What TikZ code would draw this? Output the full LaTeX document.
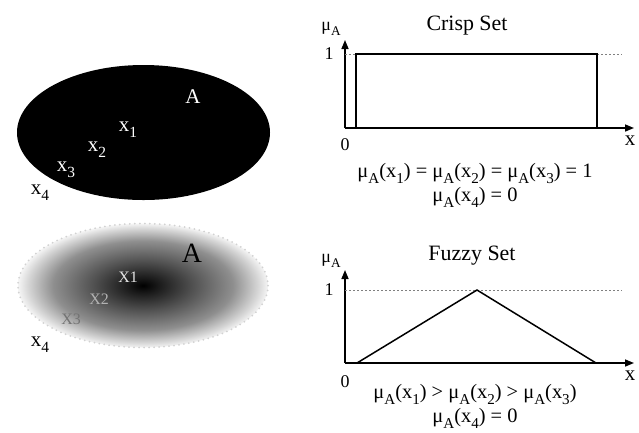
\documentclass[tikz,border=0pt]{standalone}
\usepackage{fontspec}
\setmainfont{Liberation Serif}
\usetikzlibrary{arrows.meta}
\pgfdeclareradialshading{fuzzyset}{\pgfpoint{0bp}{0bp}}{color(0bp)=(black); color(3bp)=(black!90); color(10bp)=(black!68); color(18bp)=(black!44); color(23bp)=(black!16); color(25bp)=(black!4); color(50bp)=(white)}
% low, large subscript as in the reference
\newcommand\lowsub[1]{\raisebox{-0.3em}{\scalebox{0.74}{#1}}}
\newcommand\muA{μ\lowsub{A}}

\begin{document}
\begin{tikzpicture}[
  x=1bp, y=-1bp,
  txt/.style={inner sep=0pt, font=\fontsize{18}{20}\selectfont},
  elt/.style={inner sep=0pt, font=\fontsize{21}{24}\selectfont},
  ttl/.style={inner sep=0pt, anchor=base, font=\fontsize{22}{25}\selectfont},
  big/.style={inner sep=0pt, font=\fontsize{28}{32}\selectfont},
  small/.style={inner sep=0pt, font=\fontsize{16}{18}\selectfont},
  formula/.style={inner sep=0pt, anchor=base, font=\fontsize{20.5}{22}\selectfont},
  axis/.style={line width=1.5bp, -{Triangle[length=9bp,width=7bp]}},
  guide/.style={gray, line width=0.7bp, dash pattern=on 2bp off 2bp},
  curve/.style={line width=1.5bp}
]
\useasboundingbox (0,0) rectangle (639,432);

% crisp set A
\fill[black] (143.5,132.5) ellipse [x radius=126.5, y radius=67.5];
\node[elt,white] (cA) at (193,97) {A};
\node[elt,white] (cx1) at (128,130) {x\lowsub{1}};
\node[elt,white] (cx2) at (97,150) {x\lowsub{2}};
\node[elt,white] (cx3) at (66,170) {x\lowsub{3}};
\node[elt] (cx4) at (40,193) {x\lowsub{4}};

% fuzzy set A
\shade[shading=fuzzyset] (143,285.5) ellipse [x radius=125, y radius=62];
\draw[gray!35, line width=2bp, dash pattern=on 0pt off 5bp, line cap=round]
  (143,285.5) ellipse [x radius=125, y radius=62];
\node[big] (fA) at (192,253) {A};
\node[small,white!90!black] (fx1) at (128,277) {X1};
\node[small,gray!60] (fx2) at (99,299) {X2};
\node[small,black!55] (fx3) at (71,319) {X3};
\node[elt] (fx4) at (40,345) {x\lowsub{4}};

% crisp membership
\coordinate (o1) at (345,128);
\coordinate (y1) at (345,40);
\coordinate (e1) at (634,128);
\coordinate (g1) at (345,54);
\coordinate (h1) at (622,54);
\draw[axis] (o1) -- (y1);
\draw[axis] (o1) -- (e1);
\draw[guide] (g1) -- (h1);
\draw[curve] (356,128) -- (356,54) -- (597,54) -- (597,128);
\node[ttl] (t1) at (467,30) {Crisp Set};
\node[txt] (mu1) at (331,29) {\muA};
\node[txt] (one1) at (329,54) {1};
\node[txt] (zero1) at (345,145) {0};
\node[elt] (x1) at (630,141) {x};
\node[formula] (f1) at (475,177)
  {\muA(x\lowsub{1}) = \muA(x\lowsub{2}) = \muA(x\lowsub{3}) = 1};
\node[formula] (f2) at (475,201) {\muA(x\lowsub{4}) = 0};

% fuzzy membership
\coordinate (o2) at (345,363);
\coordinate (y2) at (345,270);
\coordinate (e2) at (634,363);
\coordinate (g2) at (345,290);
\coordinate (h2) at (622,290);
\draw[axis] (o2) -- (y2);
\draw[axis] (o2) -- (e2);
\draw[guide] (g2) -- (h2);
\draw[curve] (357,363) -- (477,290) -- (596,363);
\node[ttl] (t2) at (472,260) {Fuzzy Set};
\node[txt] (mu2) at (331,261) {\muA};
\node[txt] (one2) at (329,290) {1};
\node[txt] (zero2) at (345,382) {0};
\node[elt] (x2) at (630,376) {x};
\node[formula] (f3) at (475,398)
  {\muA(x\lowsub{1}) > \muA(x\lowsub{2}) > \muA(x\lowsub{3})};
\node[formula] (f4) at (475,422) {\muA(x\lowsub{4}) = 0};
\end{tikzpicture}
\end{document}
